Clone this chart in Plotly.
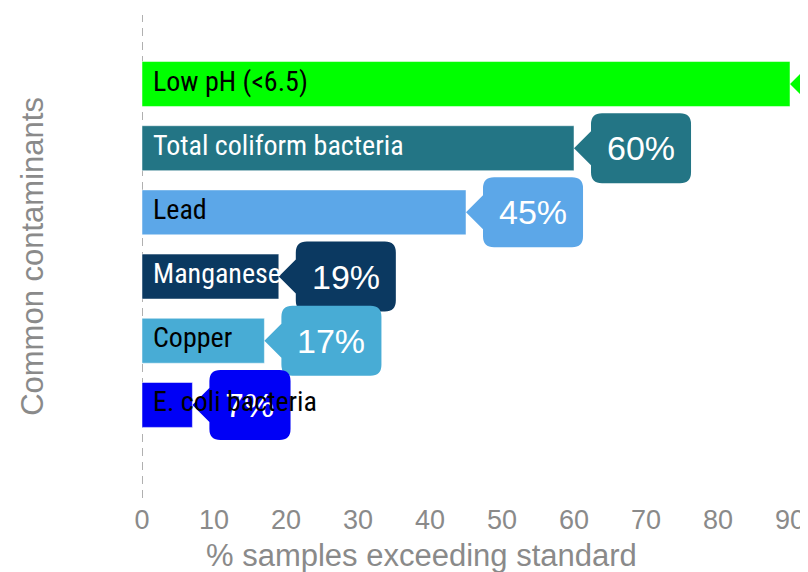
import plotly.graph_objects as go

categories = ["Low pH (<6.5)", "Total coliform bacteria", "Lead", "Manganese", "Copper", "E. coli bacteria"]
values = [90, 60, 45, 19, 17, 7]
bar_colors = ["#00ff00", "#237585", "#5ca7e8", "#0b3961", "#48acd5", "#0000f6"]
label_colors = ["black", "white", "black", "white", "black", "black"]
x_ticks = [0, 10, 20, 30, 40, 50, 60, 70, 80, 90]
x_title = "% samples exceeding standard"
y_title = "Common contaminants"

GRAY = "#8a8a8a"
LABEL_FONT = "Roboto Condensed, Liberation Sans Narrow, sans-serif"
AXIS_FONT = "Liberation Sans, Arial, sans-serif"
CALLOUT_SIZE = 34

fig = go.Figure()
fig.add_trace(go.Bar(
    x=values, y=categories, orientation="h",
    marker=dict(color=bar_colors, line=dict(color="white", width=0.5)),
    width=0.7, hoverinfo="skip", showlegend=False,
))

shapes = []
annotations = []

# dashed axis line at x = 0
shapes.append(dict(type="line", xref="x", yref="paper", x0=0, x1=0, y0=0, y1=1,
                   line=dict(color="#b0b0b0", width=2, dash="8px,6px"), layer="below"))

for cat, val, col in zip(categories, values, bar_colors):
    txt = f"{val}%"
    nd = len(str(val))
    W = 32 + CALLOUT_SIZE * (0.556 * nd + 0.889)
    t = 17   # pointer length
    h = 17   # pointer half height
    H = 35   # box half height
    r = 11   # corner radius
    L = t
    R = t + W
    path = (f"M 0,0 L {L},{h} L {L},{H-r} Q {L},{H} {L+r},{H} L {R-r},{H} "
            f"Q {R},{H} {R},{H-r} L {R},{-H+r} Q {R},{-H} {R-r},{-H} L {L+r},{-H} "
            f"Q {L},{-H} {L},{-H+r} L {L},{-h} Z")
    shapes.append(dict(type="path", xref="x", yref="y", xsizemode="pixel", ysizemode="pixel",
                       xanchor=val, yanchor=cat, path=path, fillcolor=col,
                       line=dict(width=0), layer="above"))
    annotations.append(dict(x=val, y=cat, xref="x", yref="y", text=txt, showarrow=False,
                            xanchor="center", yanchor="middle", xshift=t + W / 2,
                            font=dict(family=AXIS_FONT, size=CALLOUT_SIZE, color="white")))

for cat, lc in zip(categories, label_colors):
    annotations.append(dict(x=0, y=cat, xref="x", yref="y", text=cat, showarrow=False,
                            xanchor="left", yanchor="middle", xshift=9, yshift=3,
                            font=dict(family=LABEL_FONT, size=28, color=lc)))

# x-axis title (placed as in the reference, left of the plot centre)
annotations.append(dict(x=0.419, y=0, xref="paper", yref="paper", text=x_title, showarrow=False,
                        xanchor="center", yanchor="middle", yshift=-57,
                        font=dict(family=AXIS_FONT, size=31, color=GRAY)))

fig.update_layout(
    width=800, height=564,
    margin=dict(l=134, r=0, t=7, b=74),
    paper_bgcolor="white", plot_bgcolor="white",
    shapes=shapes, annotations=annotations,
    xaxis=dict(range=[0, 92.5], tickvals=x_ticks, showgrid=False, zeroline=False,
               showline=False, ticks="", automargin=False, ticklabelstandoff=3,
               tickfont=dict(family=AXIS_FONT, size=27, color=GRAY)),
    yaxis=dict(categoryorder="array", categoryarray=categories,
               range=[6.45, -1.075], showticklabels=False, showgrid=False, zeroline=False,
               showline=False, ticks="", automargin=False,
               title=dict(text=y_title, standoff=88,
                          font=dict(family=AXIS_FONT, size=31, color=GRAY))),
)

fig.write_html("out.html")
